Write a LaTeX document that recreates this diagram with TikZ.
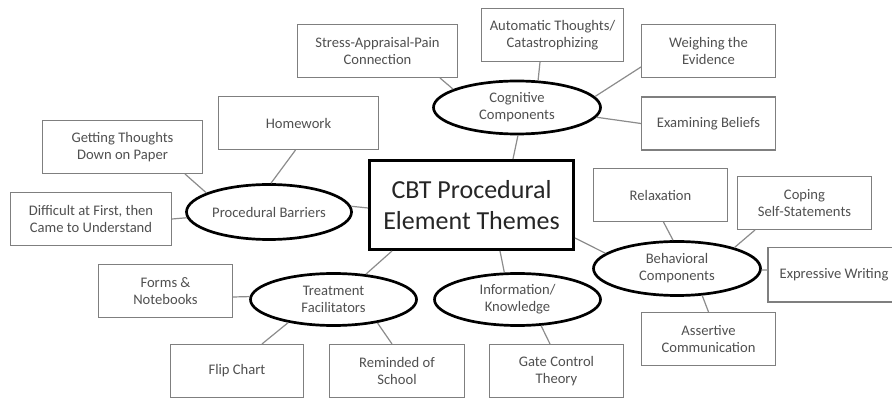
\documentclass[tikz,border=0pt]{standalone}
\usepackage{fontspec}
\setmainfont{Carlito}
\usetikzlibrary{shapes.geometric}
\definecolor{boxline}{HTML}{7F7F7F}
\definecolor{conn}{HTML}{8C8C8C}
\definecolor{txt}{HTML}{505050}
\definecolor{ctxt}{HTML}{262626}
\tikzset{
  leaf/.style={draw=boxline, line width=1.1pt, rectangle, inner sep=2pt,
    minimum height=53pt, text=txt, align=center,
    font=\fontsize{14.6pt}{17pt}\selectfont},
  theme/.style={draw=black, line width=2.7pt, ellipse, inner sep=0pt,
    minimum width=166pt, minimum height=52pt, text=txt, align=center,
    font=\fontsize{14.6pt}{17pt}\selectfont},
  core/.style={draw=black, line width=3pt, rectangle, minimum width=204pt,
    minimum height=89pt, text=ctxt, align=center,
    font=\fontsize{26pt}{31pt}\selectfont},
  link/.style={draw=conn, line width=1.2pt},
  edge/.style={draw=boxline, line width=1.1pt}
}
\begin{document}
\begin{tikzpicture}[x=1pt, y=-1pt]
\useasboundingbox[fill=white] (0,0) rectangle (892,403);
\clip (0,0) rectangle (892,403);
% central
\node[core] (cen) at (471.5,205) {CBT Procedural\\Element Themes};
% themes
\node[theme, minimum width=167pt, minimum height=53pt] (cog) at (517,107.5) {Cognitive\\Components};
\node[theme, minimum height=55pt, minimum width=165pt] (proc) at (269,212) {Procedural Barriers};
\node[theme] (treat) at (333.5,299.5) {Treatment\\Facilitators};
\node[theme] (info) at (517.5,299.5) {Information/\\Knowledge};
\node[theme, minimum width=167pt, minimum height=54pt] (behav) at (677,268.5) {Behavioral\\Components};
% leaves
\node[leaf, minimum width=160pt] (stress) at (377.5,51) {Stress-Appraisal-Pain\\Connection};
\node[leaf, minimum width=142pt] (auto) at (552.5,35) {Automatic Thoughts/\\Catastrophizing};
\node[leaf, minimum width=134pt] (weigh) at (708.5,51) {Weighing the\\Evidence};
\node[leaf, minimum width=134pt] (exam) at (708.5,123.5) {Examining Beliefs};
\node[leaf, minimum width=160pt] (home) at (298.5,123) {Homework};
\node[leaf, minimum width=160pt] (get) at (122.5,147) {Getting Thoughts\\Down on Paper};
\node[leaf, minimum width=161pt] (diff) at (91,219) {Difficult at First, then\\Came to Understand};
\node[leaf, minimum width=134pt] (forms) at (165.5,291) {Forms \&\\Notebooks};
\node[leaf, minimum width=133pt] (flip) at (237,371) {Flip Chart};
\node[leaf, minimum width=135pt] (remind) at (397,371) {Reminded of\\School};
\node[leaf, minimum width=134pt] (gate) at (556.5,371) {Gate Control\\Theory};
\node[leaf, minimum width=134pt] (relax) at (660.5,195) {Relaxation};
\node[leaf, minimum width=134pt] (coping) at (804.5,203) {Coping\\Self-Statements};
\node[leaf, draw=none, minimum width=131pt] (express) at (834,275) {Expressive Writing};
\draw[edge] ([xshift=30pt]express.north east) -- (express.north west)
  -- (express.south west) -- ([xshift=30pt]express.south east);
\node[leaf, minimum width=134pt] (assert) at (708.5,339) {Assertive\\Communication};
% connectors
\draw[link] ([xshift=-18pt]stress.south east) -- (cog.164);
\draw[link] ([xshift=-12.5pt]auto.south) -- (cog.52);
\draw[link] ([yshift=-16pt]weigh.west) -- (cog.8);
\draw[link] (exam.west) -- (cog.-7);
\draw[link] (cog.-88) -- ([xshift=41.5pt]cen.north);
\draw[link] ([xshift=-3pt]home.south) -- (proc.86);
\draw[link] ([xshift=-18pt]get.south east) -- (proc.163);
\draw[link] (diff.east) -- (proc.184);
\draw[link] (proc.4) -- ([yshift=-3pt]cen.west);
\draw[link] ([xshift=24pt]cen.south west) -- (treat.38);
\draw[link] ([yshift=-6pt]forms.east) -- (treat.178);
\draw[link] (treat.207) -- ([xshift=25pt]flip.north);
\draw[link] (treat.-28) -- ([xshift=-5pt]remind.north);
\draw[link] ([xshift=28.5pt]cen.south) -- (info.116);
\draw[link] (info.-48) -- ([xshift=-6.5pt]gate.north);
\draw[link] ([yshift=13pt]cen.south east) -- (behav.168);
\draw[link] ([xshift=3pt]relax.south) -- (behav.98);
\draw[link] ([xshift=18pt]coping.south west) -- (behav.20);
\draw[link] (behav.-1) -- ([yshift=5pt]express.west);
\draw[link] (behav.-47) -- (assert.north);
\end{tikzpicture}
\end{document}
